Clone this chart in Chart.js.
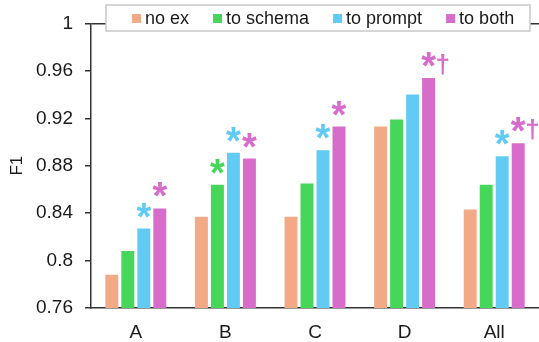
<!DOCTYPE html>
<html lang="en">
<head>
  <meta charset="UTF-8">
  <title>F1 by group</title>
  <script src="https://cdn.jsdelivr.net/npm/chart.js"></script>
  <style>
    html, body { margin: 0; padding: 0; background: #fff; }
    #wrap { width: 539px; height: 342px; }
  </style>
</head>
<body>
  <div id="wrap"><canvas id="f1Chart" width="539" height="342"></canvas></div>

  <script>
    // values
    const categories = ['A', 'B', 'C', 'D', 'All'];
    const seriesNames = ['no ex', 'to schema', 'to prompt', 'to both'];
    const noEx     = [0.788, 0.837, 0.837, 0.913, 0.843];
    const toSchema = [0.808, 0.864, 0.865, 0.919, 0.864];
    const toPrompt = [0.827, 0.891, 0.893, 0.940, 0.888];
    const toBoth   = [0.844, 0.886, 0.913, 0.954, 0.899];
    // significance marks drawn above the bars
    const marksNoEx   = ['', '', '', '', ''];
    const marksSchema = ['', '*', '', '', ''];
    const marksPrompt = ['*', '*', '*', '', '*'];
    const marksBoth   = ['*', '*', '*', '*†', '*†'];
    const yTicks = [0.76, 0.8, 0.84, 0.88, 0.92, 0.96, 1];

    const colors = ['#F2AA86', '#45D65A', '#62CBF3', '#D76CCB'];
    const allValues = [noEx, toSchema, toPrompt, toBoth];
    const allMarks = [marksNoEx, marksSchema, marksPrompt, marksBoth];
    const FONT = "'Liberation Sans', Arial, sans-serif";

    const markPlugin = {
      id: 'marks',
      afterDatasetsDraw(chart) {
        const ctx = chart.ctx;
        ctx.save();
        chart.data.datasets.forEach((ds, i) => {
          const meta = chart.getDatasetMeta(i);
          meta.data.forEach((bar, j) => {
            const m = ds.marks[j];
            if (!m) return;
            ctx.fillStyle = ds.backgroundColor;
            ctx.textBaseline = 'alphabetic';
            if (m.includes('*')) {
              ctx.font = 'bold 38px ' + FONT;
              ctx.textAlign = 'center';
              ctx.fillText('*', bar.x, bar.y + 1);
            }
            if (m.includes('†')) {
              ctx.font = 'bold 26px ' + FONT;
              ctx.textAlign = 'left';
              ctx.fillText('†', bar.x + 7, bar.y - 5);
            }
          });
        });
        ctx.restore();
      }
    };

    const boxLegend = {
      id: 'boxLegend',
      afterDraw(chart) {
        const ctx = chart.ctx;
        const box = { x: 106, y: 5, w: 424, h: 26 };
        ctx.save();
        ctx.fillStyle = '#fff';
        ctx.fillRect(box.x, box.y, box.w, box.h);
        ctx.strokeStyle = '#c8c8c8';
        ctx.lineWidth = 1.5;
        ctx.strokeRect(box.x, box.y, box.w, box.h);
        ctx.font = '18px ' + FONT;
        ctx.textBaseline = 'middle';
        ctx.textAlign = 'left';
        let x = box.x + 26;
        const cy = box.y + box.h / 2 + 1;
        chart.data.datasets.forEach(ds => {
          ctx.fillStyle = ds.backgroundColor;
          ctx.fillRect(x, cy - 5, 9, 9);
          x += 13;
          ctx.fillStyle = '#1a1a1a';
          ctx.fillText(ds.label, x, cy);
          x += ctx.measureText(ds.label).width + 24;
        });
        ctx.restore();
      }
    };

    new Chart(document.getElementById('f1Chart'), {
      type: 'bar',
      data: {
        labels: categories,
        datasets: seriesNames.map((name, i) => ({
          label: name,
          data: allValues[i],
          marks: allMarks[i],
          backgroundColor: colors[i],
          borderWidth: 0,
          categoryPercentage: 0.714,
          barPercentage: 0.81
        }))
      },
      options: {
        responsive: false,
        animation: false,
        layout: { padding: { top: 19, right: 0, bottom: 0, left: 0 } },
        plugins: {
          legend: { display: false },
          tooltip: { enabled: false }
        },
        scales: {
          x: {
            grid: { display: false },
            border: { display: true, color: '#333', width: 1.5 },
            ticks: { color: '#1a1a1a', font: { family: FONT, size: 19 }, padding: 5 },
            afterFit(scale) { scale.height = 34; }
          },
          y: {
            min: 0.76,
            max: 1,
            afterBuildTicks(scale) { scale.ticks = yTicks.map(v => ({ value: v })); },
            ticks: {
              color: '#1a1a1a',
              font: { family: FONT, size: 19 },
              padding: 12,
              callback: v => String(Number(v.toFixed(2)))
            },
            grid: {
              color: c => (c.tick && c.tick.value === 1 ? '#333' : 'rgba(0,0,0,0)'),
              tickColor: '#333',
              tickLength: 6,
              lineWidth: 1.5
            },
            border: { display: true, color: '#333', width: 1.5 },
            title: {
              display: true,
              text: 'F1',
              color: '#1a1a1a',
              font: { family: FONT, size: 17 },
              padding: { top: 7, bottom: 0 }
            },
            afterFit(scale) { scale.width = 91; }
          }
        }
      },
      plugins: [markPlugin, boxLegend]
    });
  </script>
</body>
</html>
